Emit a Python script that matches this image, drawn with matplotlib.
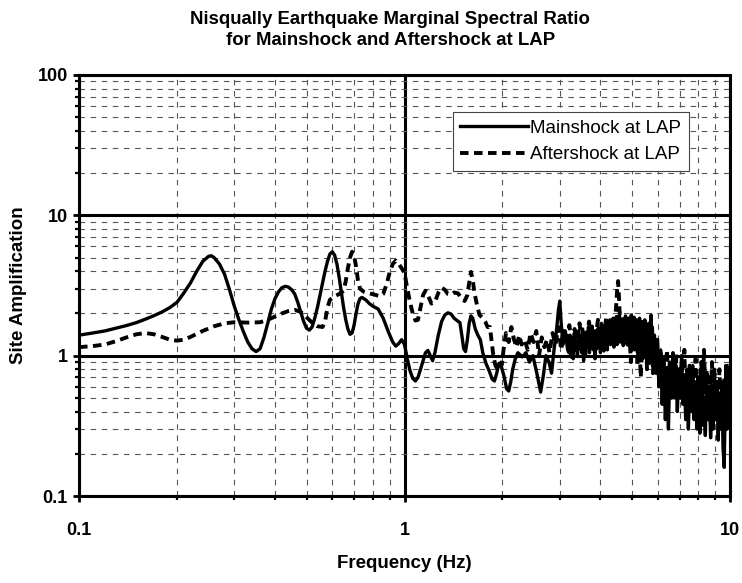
"""Nisqually earthquake marginal spectral ratio at LAP (mainshock vs aftershock).

Writes ``out.png``: site amplification against frequency on log-log axes.
"""

from __future__ import annotations

import matplotlib

matplotlib.use("Agg")
import matplotlib.pyplot as plt
from matplotlib.ticker import FixedFormatter, FixedLocator, LogLocator, NullFormatter

OUT = "out.png"

# Mainshock at LAP (Hz, amplification).
MAIN_FREQ = [
    0.10, 0.11, 0.12, 0.13, 0.14, 0.15, 0.16, 0.17, 0.18, 0.19,
    0.20, 0.21, 0.22, 0.23, 0.24, 0.25, 0.255, 0.26, 0.27, 0.28,
    0.29, 0.30, 0.31, 0.32, 0.33, 0.34, 0.35, 0.36, 0.37, 0.38,
    0.39, 0.40, 0.41, 0.42, 0.43, 0.44, 0.45, 0.46, 0.47, 0.48,
    0.49, 0.50, 0.51, 0.52, 0.53, 0.54, 0.55, 0.56, 0.57, 0.58,
    0.59, 0.60, 0.61, 0.62, 0.63, 0.64, 0.65, 0.66, 0.67, 0.68,
    0.69, 0.70, 0.71, 0.72, 0.73, 0.74, 0.76, 0.78, 0.80, 0.83,
    0.86, 0.89, 0.92, 0.94, 0.96, 0.98, 1.00, 1.02, 1.04, 1.06,
    1.08, 1.10, 1.12, 1.14, 1.16, 1.18, 1.20, 1.22, 1.24, 1.27,
    1.30, 1.33, 1.36, 1.39, 1.42, 1.45, 1.48, 1.50, 1.52, 1.54,
    1.56, 1.58, 1.60, 1.62, 1.65, 1.68, 1.71, 1.74, 1.78, 1.82,
    1.86, 1.89, 1.92, 1.95, 1.98, 2.02, 2.06, 2.09, 2.12, 2.15,
    2.19, 2.23, 2.30, 2.36, 2.42, 2.48, 2.55, 2.62, 2.67, 2.72,
    2.78, 2.83, 2.88, 2.93, 2.97, 3.00, 3.03, 3.07, 3.12, 3.17,
    3.200, 3.225, 3.250, 3.275, 3.300, 3.325, 3.350, 3.375, 3.400, 3.425,
    3.450, 3.475, 3.500, 3.525, 3.550, 3.575, 3.600, 3.625, 3.650, 3.675,
    3.700, 3.725, 3.750, 3.775, 3.800, 3.825, 3.850, 3.875, 3.900, 3.925,
    3.950, 3.975, 4.000, 4.025, 4.050, 4.075, 4.100, 4.125, 4.150, 4.175,
    4.200, 4.225, 4.250, 4.275, 4.300, 4.325, 4.350, 4.375, 4.400, 4.425,
    4.450, 4.475, 4.500, 4.525, 4.550, 4.575, 4.600, 4.625, 4.650, 4.675,
    4.700, 4.725, 4.750, 4.775, 4.800, 4.825, 4.850, 4.875, 4.900, 4.925,
    4.950, 4.975, 5.000, 5.025, 5.050, 5.075, 5.100, 5.125, 5.150, 5.175,
    5.200, 5.225, 5.250, 5.275, 5.300, 5.325, 5.350, 5.375, 5.400, 5.425,
    5.450, 5.475, 5.500, 5.525, 5.550, 5.575, 5.600, 5.625, 5.650, 5.675,
    5.700, 5.725, 5.750, 5.775,
    5.80, 5.86, 5.92, 5.98, 6.05, 6.12, 6.19, 6.26, 6.33, 6.40, 6.47, 6.54,
    6.61, 6.68, 6.75, 6.82, 6.89, 6.96, 7.03, 7.10, 7.17, 7.24, 7.31, 7.38,
    7.45, 7.52, 7.60, 7.68, 7.76, 7.84, 7.92, 8.00, 8.08, 8.16, 8.24, 8.32,
    8.40, 8.48, 8.56, 8.64, 8.72, 8.80, 8.88, 8.96, 9.04, 9.12, 9.20, 9.28,
    9.36, 9.44, 9.52, 9.60, 9.66, 9.72, 9.80, 9.88, 9.95, 10.00,
]
MAIN_AMP = [
    1.40, 1.45, 1.50, 1.57, 1.64, 1.72, 1.82, 1.93, 2.05, 2.20,
    2.40, 2.80, 3.30, 4.00, 4.70, 5.10, 5.15, 5.00, 4.50, 3.80,
    2.95, 2.25, 1.80, 1.48, 1.25, 1.12, 1.07, 1.12, 1.35, 1.70,
    2.15, 2.55, 2.85, 3.05, 3.12, 3.08, 2.95, 2.75, 2.40, 2.05,
    1.75, 1.57, 1.52, 1.60, 1.85, 2.20, 2.70, 3.30, 4.00, 4.70,
    5.30, 5.50, 5.20, 4.50, 3.60, 2.80, 2.20, 1.80, 1.55, 1.42,
    1.45, 1.65, 2.00, 2.35, 2.55, 2.60, 2.50, 2.35, 2.25, 2.15,
    1.85, 1.50, 1.25, 1.17, 1.22, 1.30, 1.20, 0.95, 0.78, 0.69,
    0.66, 0.70, 0.80, 0.92, 1.05, 1.09, 1.00, 0.92, 1.05, 1.40,
    1.75, 1.95, 2.02, 1.98, 1.85, 1.78, 1.72, 1.40, 1.12, 1.07,
    1.30, 1.70, 1.92, 1.85, 1.55, 1.40, 1.30, 1.05, 0.88, 0.78,
    0.68, 0.66, 0.75, 0.88, 0.85, 0.72, 0.58, 0.56, 0.65, 0.80,
    0.95, 1.05, 0.98, 1.05, 0.90, 1.00, 0.75, 0.55, 0.72, 1.00,
    0.90, 0.75, 1.10, 1.50, 2.10, 2.45, 1.70, 1.20, 1.50, 1.10,
    1.05, 1.40, 0.98, 1.30, 0.95, 1.45, 1.10, 1.25, 1.00, 1.50,
    1.12, 1.38, 1.05, 1.55, 0.92, 1.30, 1.02, 1.45, 1.15, 1.60,
    1.05, 1.35, 1.20, 1.62, 1.10, 1.42, 0.95, 1.30, 1.12, 1.55,
    1.15, 1.48, 1.05, 1.70, 1.22, 1.50, 1.08, 1.65, 1.30, 1.75,
    1.10, 1.55, 1.25, 1.80, 1.20, 1.62, 1.35, 1.85, 1.15, 1.58,
    1.30, 1.90, 1.20, 1.70, 1.40, 1.95, 1.25, 1.65, 1.35, 1.80,
    1.18, 1.75, 1.45, 1.92, 1.30, 1.70, 1.20, 1.85, 1.40, 1.65,
    1.15, 1.95, 1.35, 1.72, 1.25, 1.88, 1.10, 1.62, 1.30, 1.80,
    1.05, 1.70, 1.25, 1.85, 1.00, 1.55, 1.20, 1.75, 0.95, 1.50,
    1.15, 1.80, 1.05, 1.60, 0.90, 1.45, 1.10, 1.70, 0.88, 1.50,
    1.05, 1.95, 1.00, 1.60,
    1.00, 1.40, 0.75, 1.20, 0.60, 1.10, 0.45, 0.95, 0.35, 0.80, 0.30, 0.90,
    0.55, 1.05, 0.50, 0.85, 0.40, 0.75, 0.55, 1.00, 0.45, 0.70, 0.35, 0.80,
    0.30, 0.60, 0.40, 0.85, 0.35, 0.65, 0.30, 0.55, 0.28, 0.70, 0.32, 0.50,
    0.27, 0.75, 0.35, 0.55, 0.26, 0.60, 0.30, 0.80, 0.35, 0.60, 0.25, 0.50,
    0.30, 0.65, 0.22, 0.16, 0.40, 0.85, 0.30, 0.70, 0.35, 0.50,
]

# Aftershock at LAP (Hz, amplification).
AFTER_FREQ = [
    0.10, 0.11, 0.12, 0.13, 0.14, 0.15, 0.16, 0.17, 0.18, 0.19,
    0.20, 0.21, 0.22, 0.24, 0.26, 0.28, 0.30, 0.33, 0.36, 0.38,
    0.40, 0.42, 0.44, 0.46, 0.48, 0.50, 0.52, 0.54, 0.56, 0.57,
    0.58, 0.59, 0.61, 0.63, 0.65, 0.66, 0.67, 0.68, 0.69, 0.70,
    0.71, 0.72, 0.73, 0.75, 0.78, 0.81, 0.84, 0.86, 0.88, 0.90,
    0.92, 0.94, 0.96, 0.98, 1.00, 1.02, 1.04, 1.06, 1.08, 1.10,
    1.12, 1.14, 1.16, 1.18, 1.21, 1.24, 1.27, 1.30, 1.33, 1.36,
    1.39, 1.42, 1.46, 1.50, 1.53, 1.56, 1.58, 1.60, 1.62, 1.64,
    1.67, 1.70, 1.73, 1.77, 1.80, 1.83, 1.85, 1.87, 1.90, 1.93,
    1.96, 1.99, 2.02, 2.05, 2.09, 2.13, 2.17, 2.21, 2.25, 2.29,
    2.34, 2.39, 2.44, 2.49, 2.54, 2.59, 2.64, 2.69, 2.74, 2.79,
    2.85, 2.91, 2.97, 3.03, 3.09, 3.15, 3.21, 3.27, 3.33, 3.39,
    3.45, 3.51, 3.57, 3.63, 3.69, 3.75, 3.81, 3.87, 3.93, 3.99,
    4.05, 4.11, 4.17, 4.23, 4.29, 4.35, 4.41, 4.46, 4.50, 4.53,
    4.56, 4.60, 4.66, 4.72, 4.78, 4.84, 4.90, 4.96, 5.02, 5.08,
    5.14, 5.20, 5.26, 5.32, 5.38, 5.44, 5.50, 5.56, 5.62, 5.68,
    5.74, 5.80, 5.86, 5.92, 5.98, 6.05, 6.12, 6.19, 6.26, 6.33,
    6.40, 6.47, 6.54, 6.61, 6.68, 6.75, 6.82, 6.89, 6.96, 7.03,
    7.10, 7.17, 7.24, 7.31, 7.38, 7.45, 7.52, 7.60, 7.68, 7.76,
    7.84, 7.92, 8.00, 8.08, 8.16, 8.24, 8.32, 8.40, 8.48, 8.56,
    8.64, 8.72, 8.80, 8.88, 8.96, 9.04, 9.12, 9.20, 9.28, 9.36,
    9.44, 9.52, 9.60, 9.68, 9.76, 9.84, 9.92, 10.00,
]
AFTER_AMP = [
    1.15, 1.17, 1.20, 1.27, 1.35, 1.42, 1.45, 1.42, 1.36, 1.30,
    1.28, 1.30, 1.36, 1.50, 1.62, 1.70, 1.73, 1.72, 1.73, 1.80,
    1.90, 2.00, 2.08, 2.12, 2.05, 1.88, 1.72, 1.62, 1.60, 1.75,
    2.20, 2.50, 2.65, 2.75, 2.90, 3.40, 4.20, 5.00, 5.50, 5.20,
    4.30, 3.40, 3.00, 2.85, 2.78, 2.72, 2.65, 2.75, 3.20, 3.90,
    4.50, 4.75, 4.50, 4.20, 3.90, 3.00, 2.40, 2.00, 1.78, 1.80,
    2.20, 2.70, 2.90, 2.70, 2.35, 2.40, 2.80, 3.05, 2.95, 2.75,
    2.72, 2.82, 2.78, 2.55, 2.45, 2.70, 3.30, 3.95, 3.50, 2.80,
    2.30, 1.95, 1.88, 1.75, 1.60, 1.60, 1.30, 1.05, 0.86, 0.80,
    0.88, 0.86, 1.15, 1.45, 1.25, 1.60, 1.30, 1.15, 1.40, 1.20,
    1.30, 1.10, 1.45, 1.25, 1.50, 1.00, 1.35, 1.15, 1.30, 1.05,
    1.45, 1.20, 1.60, 1.10, 1.50, 1.25, 1.65, 1.15, 1.55, 1.30,
    1.70, 1.20, 1.50, 1.35, 1.75, 1.25, 1.60, 1.40, 1.80, 1.30,
    1.65, 1.45, 1.90, 1.40, 1.75, 1.55, 1.55, 2.10, 2.90, 3.40,
    2.60, 1.70, 1.95, 1.35, 1.80, 1.20, 1.60, 0.90, 1.50, 1.10,
    1.70, 0.85, 1.40, 0.70, 1.30, 1.00, 1.55, 0.80, 1.35, 0.95,
    1.45, 0.75, 1.20, 0.90, 1.30, 0.70, 1.05, 0.60, 0.90, 0.55,
    1.10, 0.65, 0.95, 0.50, 0.85, 0.60, 1.05, 0.55, 0.80, 0.50,
    0.90, 0.60, 1.10, 0.50, 0.75, 0.45, 0.85, 0.55, 0.70, 0.42,
    0.95, 0.50, 0.75, 0.45, 0.90, 0.50, 1.10, 0.55, 0.80, 0.45,
    0.70, 0.40, 0.90, 0.50, 0.75, 0.45, 0.65, 0.40, 0.80, 0.50,
    0.60, 0.38, 0.70, 0.45, 0.90, 0.50, 0.75, 0.55,
]

X_TICKS = [0.1, 1, 10]
X_TICK_LABELS = ["0.1", "1", "10"]
Y_TICKS = [0.1, 1, 10, 100]
Y_TICK_LABELS = ["0.1", "1", "10", "100"]

FONT = "Liberation Sans"


def _style_axes(ax) -> None:  # type: ignore[no-untyped-def]
    ax.set_xscale("log")
    ax.set_yscale("log")
    ax.set_xlim(0.1, 10)
    ax.set_ylim(0.1, 100)

    ax.xaxis.set_major_locator(FixedLocator(X_TICKS))
    ax.xaxis.set_major_formatter(FixedFormatter(X_TICK_LABELS))
    ax.yaxis.set_major_locator(FixedLocator(Y_TICKS))
    ax.yaxis.set_major_formatter(FixedFormatter(Y_TICK_LABELS))
    ax.xaxis.set_minor_locator(LogLocator(base=10, subs=range(2, 10), numticks=20))
    ax.yaxis.set_minor_locator(LogLocator(base=10, subs=range(2, 10), numticks=20))
    ax.xaxis.set_minor_formatter(NullFormatter())
    ax.yaxis.set_minor_formatter(NullFormatter())

    ax.grid(which="minor", color="#555555", linewidth=0.8, linestyle=(0, (5, 5)))
    ax.grid(which="major", color="black", linewidth=2.2)
    ax.set_axisbelow(True)

    for spine in ax.spines.values():
        spine.set_linewidth(2.2)
        spine.set_color("black")

    ax.tick_params(which="both", direction="out", top=False, right=False,
                   color="black")
    ax.tick_params(which="major", length=4, width=2)
    ax.tick_params(which="minor", length=3, width=1.6)
    ax.tick_params(axis="x", which="major", pad=15)
    ax.tick_params(axis="y", which="major", pad=4)
    for lab in ax.get_xticklabels() + ax.get_yticklabels():
        lab.set_fontfamily(FONT)
        lab.set_fontweight("bold")
        lab.set_fontsize(13)


def main() -> int:
    assert len(MAIN_FREQ) == len(MAIN_AMP)
    assert len(AFTER_FREQ) == len(AFTER_AMP)

    fig = plt.figure(figsize=(7.42, 5.83), dpi=100)
    ax = fig.add_axes([0.1065, 0.1492, 0.8773, 0.7222])

    ax.plot(MAIN_FREQ, MAIN_AMP, color="black", linewidth=2.4,
            label="Mainshock at LAP", solid_joinstyle="round")
    ax.plot(AFTER_FREQ, AFTER_AMP, color="black", linewidth=2.8,
            dashes=[2.2, 1.4], label="Aftershock at LAP")

    _style_axes(ax)

    ax.set_xlabel("Frequency (Hz)", fontfamily=FONT, fontweight="bold",
                  fontsize=13.5, labelpad=11)
    ax.set_ylabel("Site Amplification", fontfamily=FONT, fontweight="bold",
                  fontsize=13.5, labelpad=8)

    leg = ax.legend(
        loc="upper right",
        bbox_to_anchor=(0.937, 0.912),
        borderaxespad=0,
        fancybox=False,
        framealpha=1,
        edgecolor="#444444",
        prop={"family": FONT, "size": 13.5},
        handlelength=3.6,
        handletextpad=0.15,
        borderpad=0.4,
        labelspacing=0.5,
    )
    leg.get_frame().set_linewidth(0.8)

    fig.text(0.526, 1 - 30 / 583,
             "Nisqually Earthquake Marginal Spectral Ratio\n"
             "for Mainshock and Aftershock at LAP",
             ha="center", va="center", fontfamily=FONT, fontweight="bold",
             fontsize=13.4, linespacing=1.25)

    fig.savefig(OUT, dpi=100)
    plt.close(fig)
    return 0


if __name__ == "__main__":
    raise SystemExit(main())
